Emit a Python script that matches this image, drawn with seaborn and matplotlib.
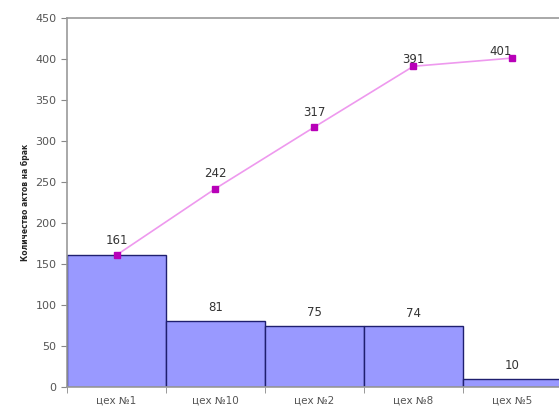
import numpy as np
import seaborn as sns
import matplotlib
matplotlib.use("Agg")
import matplotlib.pyplot as plt
from matplotlib.ticker import FixedLocator

# данные
shops = ["цех №1", "цех №10", "цех №2", "цех №8", "цех №5"]
acts = [161, 81, 75, 74, 10]
cumulative = [161, 242, 317, 391, 401]

sns.set_style("white")
plt.rcParams["font.family"] = ["DejaVu Sans"]

fig = plt.figure(figsize=(5.59, 4.15), dpi=100)
ax = fig.add_axes([0.12, 0.067, 0.885, 0.89])

sns.barplot(x=shops, y=acts, width=1.0, color="#9999FF", saturation=1,
            edgecolor="#1F1F6F", linewidth=1.0, ax=ax)

pos = np.arange(len(shops))
ax.plot(pos, cumulative, color="#EE99EE", linewidth=1.2, marker="s",
        markersize=4, markerfacecolor="#B800B8", markeredgecolor="#B800B8", zorder=5)

# подписи значений (первая точка совпадает со столбцом — одна подпись)
for x, v in zip(pos[1:], acts[1:]):
    ax.text(x, v + 8, str(v), ha="center", va="bottom", fontsize=8.5, color="#333333")
for x, v in zip(pos, cumulative):
    dy = 10 if x < 3 else 0
    dx = -0.12 if x == 4 else 0
    ax.text(x + dx, v + dy, str(v), ha="center", va="bottom", fontsize=8.5, color="#333333")

ax.set_xlim(-0.5, 4.5)
ax.set_ylim(0, 450)
ax.set_yticks(range(0, 451, 50))
ax.set_ylabel("Количество актов на брак", fontsize=5.5, fontweight="bold", labelpad=4)
ax.set_xlabel("")

ax.tick_params(axis="y", labelsize=8, labelcolor="#555555", length=4, color="#888888",
               direction="out", left=True)
ax.tick_params(axis="x", labelsize=7.5, labelcolor="#555555", length=0, pad=6)
ax.xaxis.set_minor_locator(FixedLocator(np.arange(-0.5, 5, 1)))
ax.tick_params(axis="x", which="minor", length=4, color="#888888", direction="out", bottom=True)

for s in ["left", "top", "bottom"]:
    ax.spines[s].set_color("#999999")
    ax.spines[s].set_linewidth(1.2)
ax.spines["right"].set_visible(False)

fig.savefig("out.png", dpi=100)
